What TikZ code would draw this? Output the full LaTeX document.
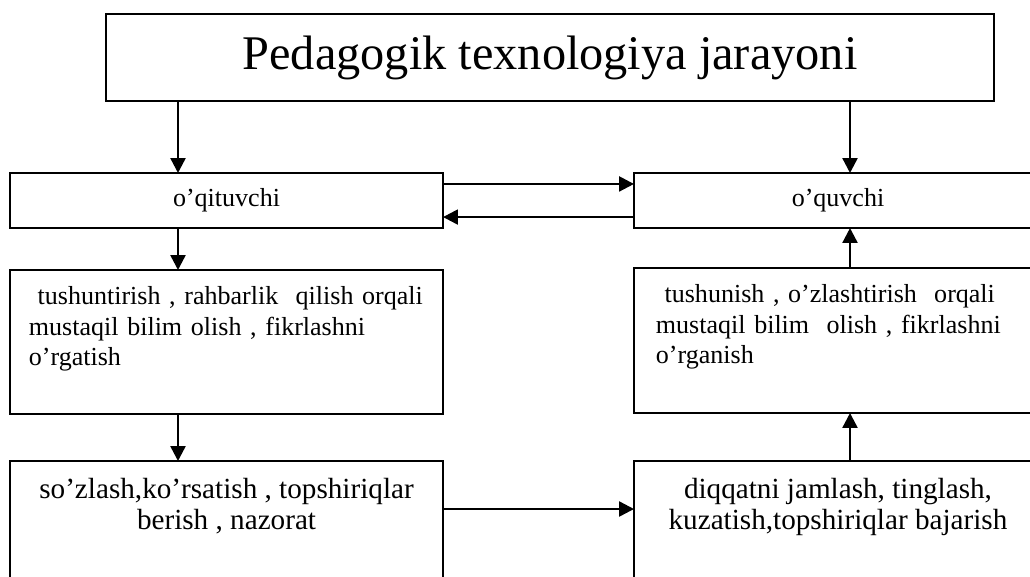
\documentclass[tikz,border=0pt]{standalone}
\usepackage{fontspec}
\setmainfont{Liberation Serif}
\usetikzlibrary{arrows.meta}

\tikzstyle{box}=[draw, line width=1pt, inner sep=0pt, outer sep=0pt, font=\fontsize{14}{16.4}\selectfont]
\tikzstyle{head}=[box, minimum width=477.7pt, minimum height=46.8pt, font=\fontsize{26}{31}\selectfont]
\tikzstyle{who}=[box, minimum height=29.6pt]
\tikzstyle{how}=[box, anchor=north west, align=left, text height=18.8pt]
\tikzstyle{act}=[box, anchor=north west, align=center, text height=37.1pt, text depth=40.4pt,
                 font=\fontsize{15.7}{17.2}\selectfont]
\tikzstyle{arr}=[line width=1.3pt, -{Triangle[length=8pt, width=8pt]}]

\begin{document}
\begin{tikzpicture}[x=0.538pt, y=-0.538pt]
    \useasboundingbox (0,0) rectangle (1030,576);
    \clip (0,0) rectangle (1030,576);

    \node[head] (title) at (550, 57.5) {Pedagogik texnologiya jarayoni};
    \node[who, minimum width=233pt]   (qt) at (226.5, 200.5) {o’qituvchi};
    \node[who, minimum width=219.5pt] (qv) at (838, 200.5)   {o’quvchi};
    \node[how, text width=212.5pt, inner xsep=10.2pt, text depth=58.6pt] (qt2) at (10, 270)
        {~tushuntirish , rahbarlik \ qilish orqali\\ mustaqil bilim olish , fikrlashni\\ o’rgatish};
    \node[how, text width=195.8pt, inner xsep=11.8pt, text depth=59.2pt] (qv2) at (634, 268)
        {~tushunish , o’zlashtirish \ orqali\\ mustaqil bilim \ olish , fikrlashni\\ o’rganish};
    \node[act, minimum width=233pt]   (qt3) at (10, 461)
        {so’zlash,ko’rsatish , topshiriqlar\\ berish , nazorat};
    \node[act, minimum width=219.5pt] (qv3) at (634, 461)
        {diqqatni jamlash, tinglash,\\ kuzatish,topshiriqlar bajarish};

    \coordinate (lx) at (178, 0);
    \coordinate (rx) at (850, 0);
    \coordinate (ly) at (0, 509);

    \draw[arr] (title.south -| lx) -- (qt.north -| lx);
    \draw[arr] (title.south -| rx) -- (qv.north -| rx);
    \draw[arr] ([yshift=8.9pt]qt.east) -- ([yshift=8.9pt]qv.west);
    \draw[arr] ([yshift=-8.9pt]qv.west) -- ([yshift=-8.9pt]qt.east);
    \draw[arr] (qt.south -| lx) -- (qt2.north -| lx);
    \draw[arr] (qt2.south -| lx) -- (qt3.north -| lx);
    \draw[arr] (qt3.east |- ly) -- (qv3.west |- ly);
    \draw[arr] (qv3.north -| rx) -- (qv2.south -| rx);
    \draw[arr] (qv2.north -| rx) -- (qv.south -| rx);
  \end{tikzpicture}
\end{document}
